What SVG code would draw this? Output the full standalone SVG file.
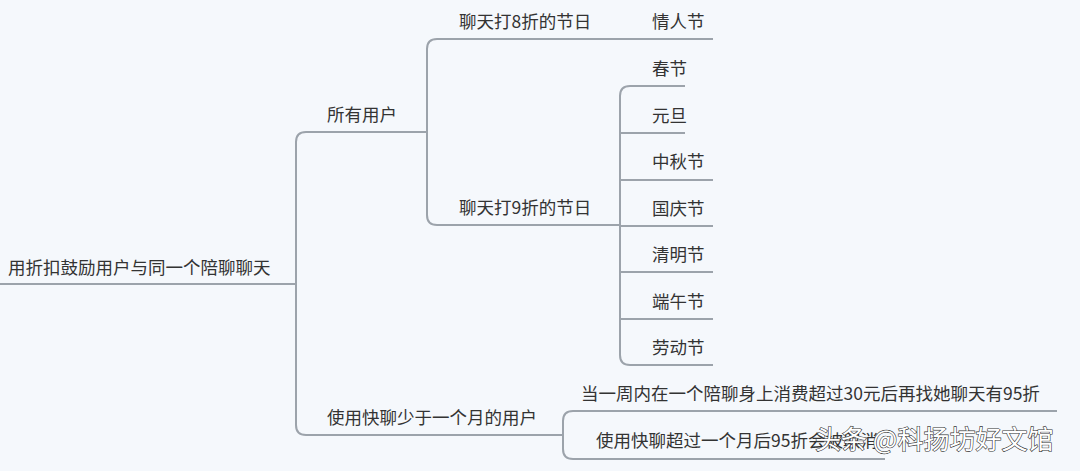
<svg xmlns="http://www.w3.org/2000/svg" width="1080" height="471" viewBox="0 0 1080 471">
<style>
text{font-family:"Noto Sans CJK SC","Noto Sans",sans-serif;font-size:17.5px;fill:#333}
.c path{fill:none;stroke:#9ca3ab;stroke-width:2}
.wm{font-size:26px;fill:#fff;stroke:#333;stroke-width:1.2px;paint-order:stroke}
</style>
<rect width="1080" height="471" fill="#f5f8fc"/>
<g class="c">
<path d="M0 284H296"/>
<path d="M427 132H306Q296 132 296 142V425Q296 435 306 435H563"/>
<path d="M620 39H437Q427 39 427 49V215Q427 225 437 225H620"/>
<path d="M620 39H713"/>
<path d="M685 86H630Q620 86 620 96V355Q620 365 630 365H713"/>
<path d="M620 133H685M620 180H713M620 226H713M620 272H713M620 319H713"/>
<path d="M1057 411H573Q563 411 563 421V449Q563 459 573 459H885"/>
</g>
<g id="root"><text x="8" y="274">用折扣鼓励用户与同一个陪聊聊天</text></g>
<g id="n1"><text x="327" y="121">所有用户</text></g>
<g id="n2"><text x="327" y="424">使用快聊少于一个月的用户</text></g>
<g id="n3"><text x="459" y="28">聊天打8折的节日</text></g>
<g id="n4"><text x="459" y="214">聊天打9折的节日</text></g>
<g id="n5"><text x="652" y="28">情人节</text></g>
<g id="n6"><text x="652" y="75">春节</text></g>
<g id="n7"><text x="652" y="122">元旦</text></g>
<g id="n8"><text x="652" y="168">中秋节</text></g>
<g id="n9"><text x="652" y="215">国庆节</text></g>
<g id="n10"><text x="652" y="261">清明节</text></g>
<g id="n11"><text x="652" y="308">端午节</text></g>
<g id="n12"><text x="652" y="354">劳动节</text></g>
<g id="n13"><text x="581" y="400">当一周内在一个陪聊身上消费超过30元后再找她聊天有95折</text></g>
<g id="n14"><text x="596" y="447">使用快聊超过一个月后95折会被取消</text></g>
<text class="wm" x="815" y="449">头条 @科扬坊好文馆</text>
</svg>
